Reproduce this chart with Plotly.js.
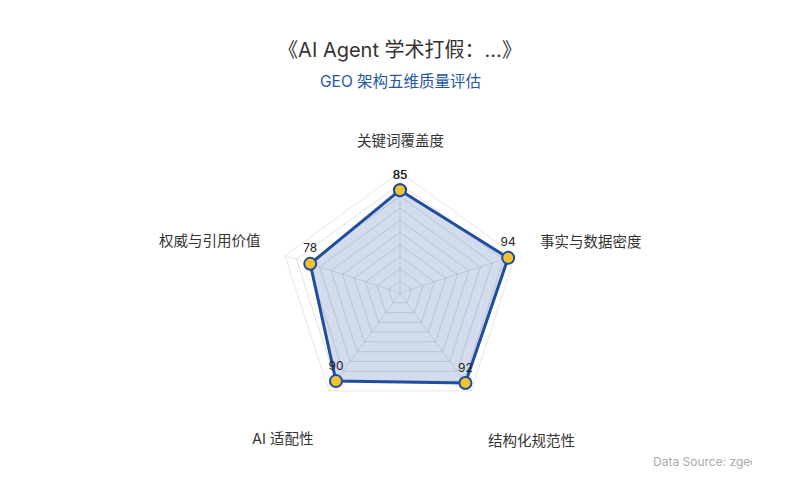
<!DOCTYPE html>
<html>
<head>
<meta charset="utf-8">
<script src="https://cdn.plot.ly/plotly-3.0.1.min.js"></script>
<style>
  html, body { margin: 0; padding: 0; background: #fff; }
  #chart { width: 752px; height: 500px; overflow: hidden; }
</style>
</head>
<body>
<div id="chart"></div>
<script>
const dimensions = ['关键词覆盖度', '事实与数据密度', '结构化规范性', 'AI 适配性', '权威与引用价值'];
const scores = [85, 94, 92, 90, 78];

const fontFamily = 'Inter, "Noto Sans CJK SC", "Noto Sans", sans-serif';
const target = document.getElementById('chart');
const W = 752, H = 500;

// where each axis name sits (page px), echarts-style outside the web
const namePlacement = [
  { x: 400, y: 140, anchor: 'center' },
  { x: 538, y: 241, anchor: 'left' },
  { x: 531, y: 440, anchor: 'center' },
  { x: 282, y: 438, anchor: 'center' },
  { x: 263, y: 240, anchor: 'right' }
];

// close the polygon by repeating the first point
const theta = dimensions.concat(dimensions[0]);
const r = scores.concat(scores[0]);

const trace = {
  type: 'scatterpolar',
  r: r,
  theta: theta,
  mode: 'lines+markers+text',
  fill: 'toself',
  fillcolor: 'rgba(31, 78, 160, 0.2)',
  line: { color: '#1f4ea0', width: 3 },
  marker: {
    size: 12,
    color: '#f3c22f',
    line: { color: '#1f4ea0', width: 2 }
  },
  text: r.map(String),
  textposition: 'top center',
  textfont: { family: fontFamily, size: 12, color: '#222' },
  hoverinfo: 'skip',
  showlegend: false
};

const nameLabels = dimensions.map((name, i) => ({
  text: name,
  xref: 'paper', yref: 'paper',
  x: namePlacement[i].x / W,
  y: 1 - namePlacement[i].y / H,
  xanchor: namePlacement[i].anchor,
  yanchor: 'middle',
  showarrow: false,
  font: { family: fontFamily, size: 14.5, color: '#333' }
}));

const layout = {
  width: W,
  height: H,
  paper_bgcolor: '#fff',
  plot_bgcolor: '#fff',
  font: { family: fontFamily, color: '#333' },
  margin: { l: 0, r: 0, t: 0, b: 0 },
  title: {
    text: '《AI Agent 学术打假：...》',
    font: { family: fontFamily, size: 20, color: '#333' },
    x: 400 / W,
    xanchor: 'center',
    y: 1 - 50 / H,
    yanchor: 'middle',
    yref: 'container'
  },
  polar: {
    domain: { x: [48 / W, 1], y: [0.172, 0.656] },
    gridshape: 'linear',
    bgcolor: 'rgba(0,0,0,0)',
    radialaxis: {
      range: [0, 100],
      dtick: 10,
      showticklabels: false,
      ticks: '',
      showline: false,
      gridcolor: 'rgba(0, 0, 0, 0.12)',
      gridwidth: 1
    },
    angularaxis: {
      direction: 'clockwise',
      rotation: 90,
      showticklabels: false,
      ticks: '',
      linecolor: 'rgba(0, 0, 0, 0.1)',
      gridcolor: 'rgba(0, 0, 0, 0.1)'
    }
  },
  annotations: nameLabels.concat([
    {
      text: 'GEO 架构五维质量评估',
      xref: 'paper', yref: 'paper',
      x: 400 / W, y: 1 - 81 / H,
      xanchor: 'center', yanchor: 'middle',
      showarrow: false,
      font: { family: fontFamily, size: 15.5, color: '#2456a8' }
    },
    {
      text: 'Data Source: zgeo',
      xref: 'paper', yref: 'paper',
      x: 651 / W, y: 1 - 461 / H,
      xanchor: 'left', yanchor: 'middle',
      showarrow: false,
      font: { family: fontFamily, size: 12, color: '#aaa' }
    }
  ])
};

Plotly.newPlot(target, [trace], layout, { displayModeBar: false, staticPlot: true });
</script>
</body>
</html>
